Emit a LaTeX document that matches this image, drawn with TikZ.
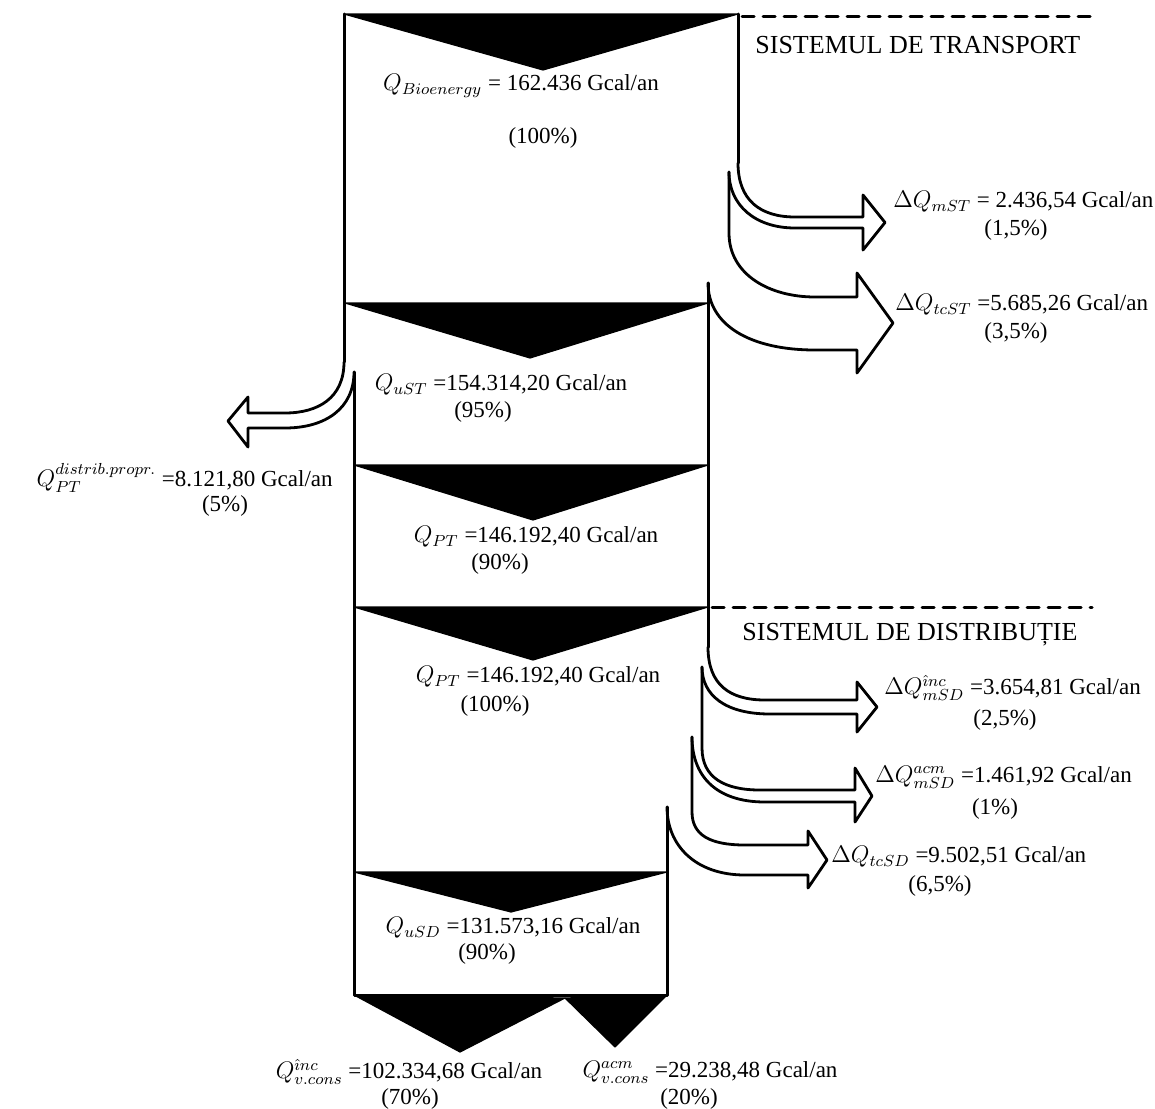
\documentclass[tikz,border=0pt]{standalone}
\usepackage{fontspec}
\setmainfont{Liberation Serif}

\begin{document}
\begin{tikzpicture}[x=0.5pt,y=-0.5pt,line cap=round,line join=round,
  wall/.style={line width=1.5pt},
  flow/.style={line width=1.4pt},
  wedge/.style={fill=black,draw=black,line width=.6pt},
  sysline/.style={line width=1.5pt,dash pattern=on 6pt off 4.5pt},
  title/.style={font=\fontsize{13}{15}\selectfont,inner sep=0pt},
  lbl/.style={font=\fontsize{11.5}{13}\selectfont,inner sep=0pt}]

\useasboundingbox (0,0) rectangle (1155,1108);

% Black wedges at the head of every section.
\foreach \l/\r/\top/\tip/\depth in {344/738/14/543/70,345/708/303/530/358,
  354/708/465/533/520,354/708/607/533/660,354/667/872/511/912}
  \fill[wedge] (\l,\top) -- (\r,\top) -- (\tip,\depth) -- cycle;
\fill[wedge] (354,995) -- (565,998) -- (460,1052) -- cycle;
\fill[wedge] (565,998) -- (667,995) -- (615,1047) -- cycle;

% System borders.
\draw[sysline] (742,16) -- (1098,16);
\draw[sysline] (712,607) -- (1092,607);

% Walls of the column.
\draw[wall] (344,14) -- (344,362);
\draw[wall] (738,14) -- (738,163);
\draw[wall] (708,283) -- (708,647);
\draw[wall] (354,372) -- (354,995) -- (667,995) -- (667,807);

% Own distribution, to the left.
\draw[flow] (344,362) .. controls (344,398) and (318,413) .. (285,413) -- (248,413)
  -- (248,397) -- (228,421) -- (248,447) -- (248,428) -- (285,428)
  .. controls (326,428) and (354,408) .. (354,372);

% Losses of the transport system.
\draw[flow] (738,163) .. controls (738,200) and (760,217) .. (795,217) -- (863,217)
  -- (863,195) -- (885,222.5) -- (863,250) -- (863,228) -- (795,228)
  .. controls (755,228) and (729,205) .. (729,172);
\draw[flow] (729,172) -- (729,233) .. controls (729,275) and (770,297) .. (815,297)
  -- (857,297) -- (857,273) -- (893,323) -- (857,373) -- (857,350) -- (815,350)
  .. controls (750,350) and (708,325) .. (708,283);

% Losses of the distribution system.
\draw[flow] (708,647) .. controls (708,685) and (730,700) .. (765,700) -- (857,700)
  -- (857,682) -- (877,707) -- (857,732) -- (857,714) -- (770,714)
  .. controls (725,714) and (702,695) .. (702,667);
\draw[flow] (702,667) -- (702,748) .. controls (702,778) and (725,790) .. (760,790)
  -- (855,790) -- (855,768) -- (872,796) -- (855,822) -- (855,802) -- (765,802)
  .. controls (715,802) and (692,775) .. (692,737);
\draw[flow] (692,737) -- (692,812) .. controls (692,835) and (710,845) .. (745,845)
  -- (808,845) -- (808,831) -- (827,860) -- (808,888) -- (808,875) -- (745,875)
  .. controls (695,875) and (667,845) .. (667,807);

% Titles.
\node[title,anchor=west] (transport) at (755,45) {SISTEMUL DE TRANSPORT};
\node[title,anchor=west] (distributie) at (742,635) {SISTEMUL DE DISTRIBUȚIE};

% Values inside the column.
\node[lbl] (qbio) at (521,86) {$Q_{Bioenergy}$ = 162.436 Gcal/an};
\node[lbl] (qbiop) at (543,138) {(100\%)};
\node[lbl] (qust) at (501,385) {$Q_{uST}$ =154.314,20 Gcal/an};
\node[lbl] (qustp) at (483,412) {(95\%)};
\node[lbl] (qpta) at (536,537) {$Q_{PT}$ =146.192,40 Gcal/an};
\node[lbl] (qptap) at (500,564) {(90\%)};
\node[lbl] (qptb) at (538,677) {$Q_{PT}$ =146.192,40 Gcal/an};
\node[lbl] (qptbp) at (495,706) {(100\%)};
\node[lbl] (qusd) at (513,928) {$Q_{uSD}$ =131.573,16 Gcal/an};
\node[lbl] (qusdp) at (487,954) {(90\%)};

% Values outside the column.
\node[lbl,anchor=east] (qdist) at (333,478) {$Q_{PT}^{distrib.propr.}$ =8.121,80 Gcal/an};
\node[lbl] (qdistp) at (225,506) {(5\%)};
\node[lbl,anchor=west] (dqmst) at (893,202) {$\Delta Q_{mST}$ = 2.436,54 Gcal/an};
\node[lbl] (dqmstp) at (1016,230) {(1,5\%)};
\node[lbl,anchor=west] (dqtcst) at (895,305) {$\Delta Q_{tcST}$ =5.685,26 Gcal/an};
\node[lbl] (dqtcstp) at (1016,333) {(3,5\%)};
\node[lbl,anchor=west] (dqinc) at (884,688) {$\Delta Q_{mSD}^{\hat{\imath}nc}$ =3.654,81 Gcal/an};
\node[lbl] (dqincp) at (1005,720) {(2,5\%)};
\node[lbl,anchor=west] (dqacm) at (875,777) {$\Delta Q_{mSD}^{acm}$ =1.461,92 Gcal/an};
\node[lbl] (dqacmp) at (995,809) {(1\%)};
\node[lbl,anchor=west] (dqtcsd) at (831,857) {$\Delta Q_{tcSD}$ =9.502,51 Gcal/an};
\node[lbl] (dqtcsdp) at (940,886) {(6,5\%)};
\node[lbl] (qinc) at (409,1072) {$Q_{v.cons}^{\hat{\imath}nc}$ =102.334,68 Gcal/an};
\node[lbl] (qincp) at (410,1099) {(70\%)};
\node[lbl] (qacm) at (710,1072) {$Q_{v.cons}^{acm}$ =29.238,48 Gcal/an};
\node[lbl] (qacmp) at (689,1099) {(20\%)};

\end{tikzpicture}
\end{document}
